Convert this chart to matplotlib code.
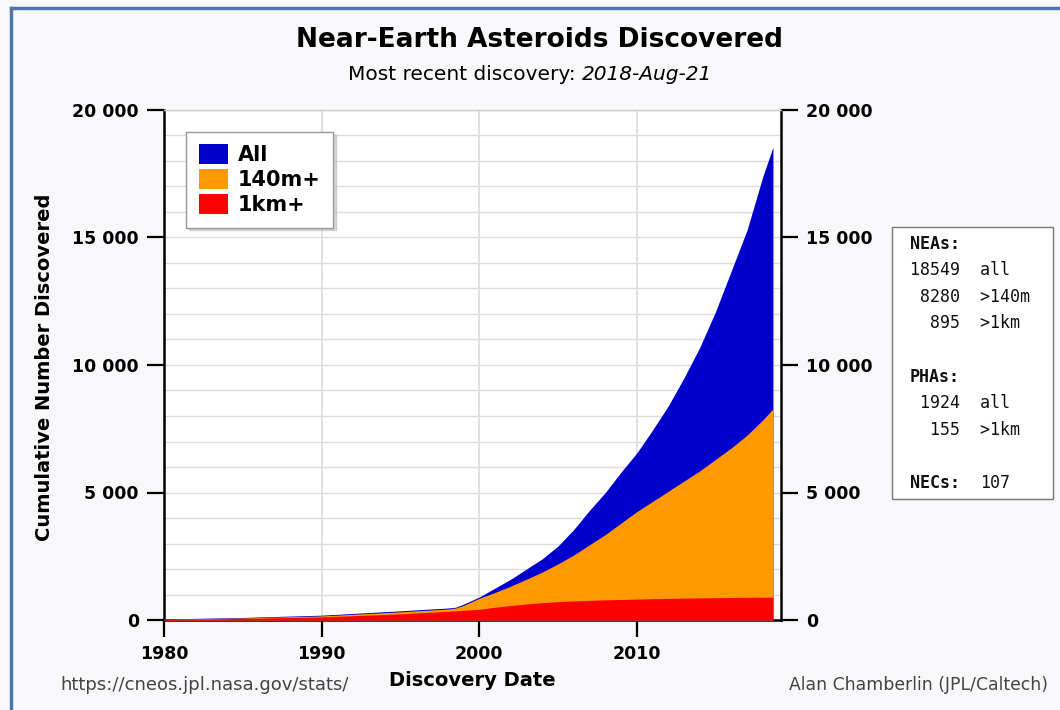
import matplotlib
matplotlib.use("Agg")
import matplotlib.pyplot as plt
from matplotlib.patches import Patch, Rectangle
from matplotlib.lines import Line2D
import numpy as np

# ---------------- data ----------------
years = [1980, 1985, 1990, 1995, 1998, 1998.5, 1999, 2000, 2001, 2002, 2003,
         2004, 2005, 2006, 2007, 2008, 2009, 2010, 2011, 2012, 2013, 2014,
         2015, 2016, 2017, 2018, 2018.64]
all_neas = [40, 100, 190, 360, 470, 500, 620, 900, 1250, 1600, 2000,
            2400, 2900, 3550, 4300, 5000, 5800, 6550, 7450, 8400, 9500, 10700,
            12100, 13700, 15300, 17400, 18549]
neas_140m = [30, 80, 160, 320, 430, 470, 570, 850, 1080, 1330, 1600,
             1880, 2200, 2550, 2950, 3350, 3800, 4250, 4650, 5050, 5450, 5850,
             6300, 6750, 7250, 7850, 8280]
neas_1km = [20, 60, 120, 240, 340, 360, 380, 420, 500, 570, 630,
            680, 720, 750, 770, 790, 805, 820, 835, 848, 858, 868,
            876, 884, 890, 893, 895]

series_labels = ["All", "140m+", "1km+"]
series_colors = ["#0000CC", "#FF9900", "#FF0000"]

x_ticks = [1980, 1990, 2000, 2010]
y_ticks = [0, 5000, 10000, 15000, 20000]
y_tick_labels = ["0", "5 000", "10 000", "15 000", "20 000"]

title = "Near-Earth Asteroids Discovered"
subtitle_plain = "Most recent discovery: "
subtitle_date = "2018-Aug-21"

info_lines = [
    ("NEAs:", True),
    ("18549  all", False),
    (" 8280  >140m", False),
    ("  895  >1km", False),
    ("PHAs:", True),
    (" 1924  all", False),
    ("  155  >1km", False),
]
necs_label = "NECs:"
necs_count = "107"

# ---------------- figure ----------------
W, H = 1060, 710
fig = plt.figure(figsize=(W / 100, H / 100), dpi=100)
fig.patch.set_facecolor("#f8f8fa")

def fx(px):
    return px / W

def fy(py):
    return 1 - py / H

# outer blue frame (left and top edges visible)
fig.add_artist(Line2D([fx(11), fx(11)], [fy(8), 0], color="#4f75ad", lw=2.5,
                      transform=fig.transFigure))
fig.add_artist(Line2D([fx(11), 1], [fy(8), fy(8)], color="#4f75ad", lw=2.5,
                      transform=fig.transFigure))

ax_left, ax_right, ax_top, ax_bottom = 164, 781, 110, 620
ax = fig.add_axes([fx(ax_left), fy(ax_bottom), fx(ax_right - ax_left),
                   (ax_bottom - ax_top) / H])
ax.set_facecolor("white")

stack = [all_neas, neas_140m, neas_1km]
for vals, col in zip(stack, series_colors):
    ax.fill_between(years, 0, vals, color=col, lw=0, zorder=3)

ax.set_xlim(1980, 2019.15)
ax.set_ylim(0, 20000)

ax.set_xticks(x_ticks)
ax.set_xticklabels([str(t) for t in x_ticks])
ax.set_yticks(y_ticks)
ax.set_yticklabels(y_tick_labels)
ax.set_yticks(np.arange(0, 20001, 1000), minor=True)

ax.grid(True, which="both", axis="y", color="#dcdcdc", lw=1, zorder=0)
ax.grid(True, which="major", axis="x", color="#dcdcdc", lw=1.2, zorder=0)
ax.set_axisbelow(True)

ax.tick_params(axis="y", which="minor", length=0)
ax.tick_params(axis="both", which="major", direction="out", length=12,
               width=1.6, color="black", labelsize=12.5, pad=6)
ax.tick_params(axis="y", right=True, labelright=True)
for lab in ax.get_xticklabels() + ax.get_yticklabels():
    lab.set_fontweight("bold")
for t in ax.yaxis.get_major_ticks():
    t.label2.set_fontweight("bold")
    t.label2.set_fontsize(12.5)

for s in ["left", "right", "bottom"]:
    ax.spines[s].set_color("black")
    ax.spines[s].set_linewidth(1.8)
ax.spines["top"].set_color("#cccccc")
ax.spines["top"].set_linewidth(1)

# legend
handles = [Patch(facecolor=c, edgecolor="none", label=l)
           for l, c in zip(series_labels, series_colors)]
leg = ax.legend(handles=handles, loc="upper left",
                bbox_to_anchor=((186 - ax_left) / (ax_right - ax_left),
                                (ax_bottom - 132) / (ax_bottom - ax_top)),
                borderaxespad=0, prop={"weight": "bold", "size": 15},
                handlelength=1.4, handleheight=1.05, handletextpad=0.5,
                labelspacing=0.2, borderpad=0.6, fancybox=False,
                shadow={"color": "#bbbbbb", "alpha": 0.6}, framealpha=1,
                edgecolor="#999999")
leg.get_frame().set_linewidth(1)
leg.set_zorder(10)

# titles
fig.text(fx(540), fy(40), title, ha="center", va="center",
         fontsize=19, fontweight="bold", color="black")
t1 = fig.text(fx(348), fy(75), subtitle_plain, ha="left", va="center",
              fontsize=14.5, color="black")
fig.canvas.draw()
bb = t1.get_window_extent()
fig.text(bb.x1 / W, fy(75), subtitle_date, ha="left", va="center",
         fontsize=14.5, style="italic", color="black")

# axis labels
fig.text(fx(45), fy(367), "Cumulative Number Discovered", rotation=90,
         ha="center", va="center", fontsize=14, fontweight="bold")
fig.text(fx(472), fy(680), "Discovery Date", ha="center", va="center",
         fontsize=14, fontweight="bold")
fig.text(fx(60), fy(685), "https://cneos.jpl.nasa.gov/stats/", ha="left",
         va="center", fontsize=13, color="#444444")
fig.text(fx(1048), fy(685), "Alan Chamberlin (JPL/Caltech)", ha="right",
         va="center", fontsize=12.4, color="#444444")

# info box
fig.add_artist(Rectangle((fx(892), fy(499)), fx(1053 - 892), (499 - 227) / H,
                         transform=fig.transFigure, facecolor="white",
                         edgecolor="#777777", lw=1))
line_y = [244, 270, 297, 323, 377, 403, 430]
for (txt, bold), yy in zip(info_lines, line_y):
    fig.text(fx(910), fy(yy), txt, ha="left", va="center",
             family="DejaVu Sans Mono", fontsize=12,
             fontweight="bold" if bold else "normal", color="#111111")
fig.text(fx(910), fy(483), necs_label, ha="left", va="center",
         family="DejaVu Sans Mono", fontsize=12, fontweight="bold",
         color="#111111")
fig.text(fx(980), fy(483), necs_count, ha="left", va="center",
         family="DejaVu Sans Mono", fontsize=12, color="#111111")

fig.savefig("out.png", dpi=100, facecolor=fig.get_facecolor())
